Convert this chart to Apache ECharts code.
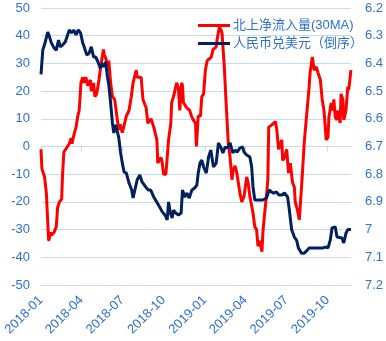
<!DOCTYPE html>
<html>
<head>
<meta charset="utf-8">
<script src="https://cdn.jsdelivr.net/npm/echarts@6/dist/echarts.min.js"></script>
<style>
  html, body { margin: 0; padding: 0; background: #ffffff; }
  #chart { width: 386px; height: 341px; }
</style>
</head>
<body>
<div id="chart"></div>
<script>
// Day offsets are counted from 2018-01-01.
const quarterTickDays = [0, 90, 181, 273, 365, 455, 546, 638];
const quarterTickLabels = ['2018-01', '2018-04', '2018-07', '2018-10', '2019-01', '2019-04', '2019-07', '2019-10'];
const lastDay = 690;

// Northbound net inflow, 30-day moving average (left axis)
const flowDays = [
  0, 2, 8, 12, 14, 17, 19, 21, 24, 29, 34, 37, 41, 46, 48, 51, 55, 58, 63, 67,
  69, 73, 78, 82, 85, 89, 93, 96, 100, 104, 110, 112, 117, 120, 124, 129, 133, 139, 141, 144,
  148, 151, 155, 159, 164, 168, 173, 176, 181, 190, 196, 201, 205, 212, 214, 223, 227, 234, 238, 245,
  251, 258, 260, 267, 269, 273, 278, 280, 284, 289, 291, 295, 300, 302, 306, 309, 313, 315, 317, 324,
  331, 335, 339, 344, 346, 350, 355, 358, 362, 366, 370, 379, 383, 390, 392, 397, 401, 403, 408, 412,
  417, 421, 425, 428, 432, 436, 443, 447, 452, 458, 461, 465, 472, 476, 480, 483, 487, 492, 494, 498,
  503, 505, 507, 514, 518, 522, 525, 529, 536, 538, 542, 547, 551, 555, 560, 564, 566, 571, 575, 577,
  582, 586, 591, 595, 597, 599, 604, 608, 613, 617, 622, 626, 630, 635, 639, 641, 646, 650, 652, 655,
  659, 661, 666, 668, 672, 674, 679, 683, 685, 690
];
const flowValues = [
  -1, -8, -11, -17, -24, -34, -33, -31, -32, -31, -29, -22, -20, -19, -10, -2, -1, -1, 1, 3,
  1, 4, 7, 11, 13, 23, 25, 23, 25, 22, 24, 20, 23, 18, 19, 24, 29, 35, 33, 32,
  29, 31, 23, 18, 17, 12, 6, 8, 5, 11, 13, 18, 23, 27.6, 25, 25, 17, 14, 8.4, 10,
  7, 2.4, -6, -4, -5, -10, -10, -6, 2.4, 8.4, 16, 18, 21.5, 23, 21, 13, 23, 22, 16, 14,
  13, 11, 9.6, 8.4, 0, 11, 11, 18, 19, 27.6, 31, 32.3, 35, 36, 38.5, 43, 42, 41, 29, 16,
  1, -4, -12, -8.5, -7, -9.6, -17, -20, -18, -11, -13, -18, -24, -29, -30, -36, -34, -38, -31, -24,
  -16, -12, 7, 7.8, 8.5, 9, 6, -1, 2.4, -5, -4, -1, -9.6, -6, -13, -14.6, -20, -23, -26.5, -22,
  -9.6, 1.3, 10.6, 18, 21.5, 26.5, 32.3, 27.6, 28.7, 26.5, 24, 17, 13, 2.4, 3.4, 10.6, 15.7, 13, 17, 10.6,
  9.6, 13, 8.5, 19, 17, 9.6, 13, 21.5, 20.4, 27.6
];

// USD/CNY exchange rate, plotted on an inverted right axis
const fxDays = [
  0, 4, 9, 15, 19, 23, 29, 34, 39, 43, 48, 54, 58, 63, 68, 73, 78, 83, 88, 93,
  96, 102, 107, 112, 117, 122, 127, 132, 137, 140, 144, 148, 151, 155, 159, 162, 166, 170, 173, 177,
  181, 185, 190, 196, 202, 205, 209, 214, 220, 225, 233, 239, 244, 251, 259, 264, 270, 276, 281, 284,
  288, 292, 295, 300, 306, 312, 315, 320, 325, 330, 336, 342, 347, 350, 354, 358, 362, 368, 373, 378,
  384, 390, 395, 400, 405, 410, 415, 421, 427, 432, 437, 443, 449, 452, 458, 465, 469, 472, 476, 481,
  487, 494, 502, 508, 513, 518, 524, 530, 536, 542, 549, 553, 558, 564, 569, 573, 580, 586, 593, 597,
  608, 619, 628, 633, 639, 644, 648, 655, 659, 663, 670, 674, 679, 683, 685, 690
];
const fxValues = [
  6.44, 6.352, 6.326, 6.287, 6.304, 6.326, 6.344, 6.352, 6.316, 6.34, 6.334, 6.323, 6.326, 6.279, 6.29, 6.28, 6.297, 6.279, 6.29, 6.326,
  6.34, 6.37, 6.363, 6.34, 6.377, 6.377, 6.395, 6.417, 6.4, 6.413, 6.395, 6.449, 6.478, 6.543, 6.615, 6.651, 6.622, 6.647, 6.666, 6.72,
  6.76, 6.792, 6.796, 6.832, 6.857, 6.886, 6.857, 6.821, 6.803, 6.828, 6.846, 6.857, 6.857, 6.882, 6.904, 6.918, 6.936, 6.947, 6.965, 6.9,
  6.94, 6.958, 6.93, 6.94, 6.947, 6.94, 6.857, 6.882, 6.868, 6.886, 6.857, 6.85, 6.839, 6.796, 6.76, 6.749, 6.774, 6.796, 6.738, 6.713,
  6.774, 6.76, 6.687, 6.702, 6.723, 6.702, 6.705, 6.687, 6.723, 6.713, 6.72, 6.705, 6.702, 6.72, 6.731, 6.738, 6.774, 6.846, 6.893, 6.893,
  6.893, 6.893, 6.886, 6.857, 6.864, 6.868, 6.864, 6.875, 6.875, 6.868, 6.882, 6.93, 7.0, 7.027, 7.038, 7.066, 7.085, 7.085, 7.074, 7.066,
  7.066, 7.066, 7.066, 7.063, 7.066, 7.038, 6.994, 6.99, 7.027, 7.02, 7.03, 7.048, 7.013, 7.0, 6.994, 7.0
];

const flowName = '北上净流入量(30MA)';
const fxName = '人民币兑美元（倒序）';

const labelBlue = '#2f6fd8';
const gridBlue = '#c5daf3';
const fontFamily = '"Liberation Sans", Arial, "Noto Sans CJK SC", sans-serif';

const chart = echarts.init(document.getElementById('chart'), null, { renderer: 'canvas' });

const tickLabelByDay = {};
quarterTickDays.forEach((d, i) => { tickLabelByDay[d] = quarterTickLabels[i]; });

chart.setOption({
  animation: false,
  backgroundColor: '#ffffff',
  textStyle: { fontFamily: fontFamily },
  grid: { left: 41, right: 32, top: 8, bottom: 56 },
  legend: {
    orient: 'vertical',
    left: 193,
    top: 14,
    itemGap: 5,
    itemWidth: 32,
    itemHeight: 3,
    icon: 'rect',
    textStyle: { color: labelBlue, fontSize: 13, fontFamily: fontFamily, padding: [0, 0, 0, -2] },
    data: [flowName, fxName]
  },
  xAxis: [
    {
      type: 'value',
      min: 0,
      max: lastDay,
      position: 'bottom',
      axisLine: { show: false, onZero: false },
      axisTick: { show: false },
      splitLine: { show: false },
      axisLabel: {
        customValues: quarterTickDays,
        rotate: 45,
        margin: 13,
        color: labelBlue,
        fontSize: 13,
        fontFamily: fontFamily,
        formatter: v => tickLabelByDay[v] || ''
      }
    },
    {
      type: 'value',
      min: 0,
      max: lastDay,
      position: 'bottom',
      axisLine: { show: true, onZero: true, onZeroAxisIndex: 0, lineStyle: { color: gridBlue, width: 1 } },
      axisTick: { show: true, customValues: quarterTickDays, length: 5, lineStyle: { color: gridBlue } },
      axisLabel: { show: false },
      splitLine: { show: false }
    }
  ],
  yAxis: [
    {
      type: 'value',
      min: -50,
      max: 50,
      interval: 10,
      axisLine: { show: false },
      axisTick: { show: false },
      axisLabel: { color: labelBlue, fontSize: 13, margin: 11, fontFamily: fontFamily },
      splitLine: { show: true, lineStyle: { color: gridBlue, width: 1 } }
    },
    {
      type: 'value',
      min: 6.2,
      max: 7.2,
      interval: 0.1,
      inverse: true,
      position: 'right',
      axisLine: { show: false },
      axisTick: { show: false },
      axisLabel: {
        color: labelBlue, fontSize: 13, margin: 14, fontFamily: fontFamily,
        formatter: v => String(Math.round(v * 10) / 10)
      },
      splitLine: { show: false }
    }
  ],
  series: [
    {
      name: flowName,
      type: 'line',
      xAxisIndex: 0,
      yAxisIndex: 0,
      showSymbol: false,
      symbol: 'none',
      color: '#ff0000',
      lineStyle: { color: '#ff0000', width: 3 },
      data: flowDays.map((d, i) => [d, flowValues[i]])
    },
    {
      name: fxName,
      type: 'line',
      xAxisIndex: 0,
      yAxisIndex: 1,
      showSymbol: false,
      symbol: 'none',
      color: '#002060',
      lineStyle: { color: '#002060', width: 3 },
      data: fxDays.map((d, i) => [d, fxValues[i]])
    }
  ]
});
</script>
</body>
</html>
